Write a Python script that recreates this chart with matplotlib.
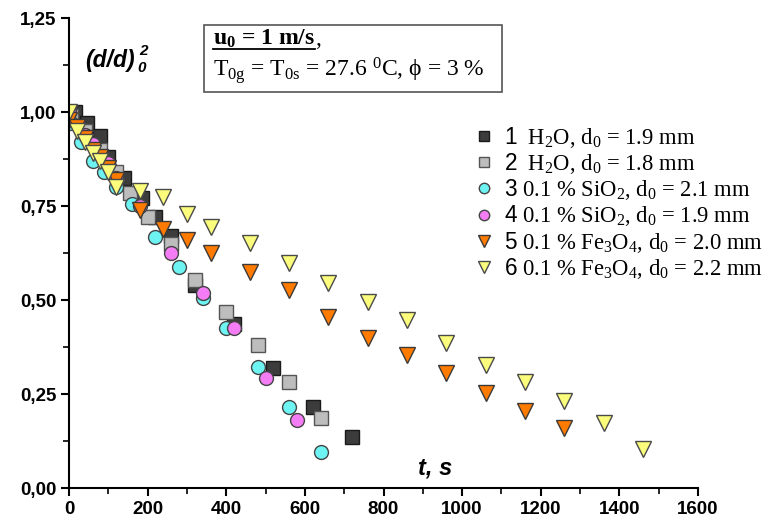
import matplotlib
matplotlib.use("Agg")
import matplotlib.pyplot as plt
from matplotlib.lines import Line2D
from matplotlib.patches import Rectangle
from matplotlib.ticker import MultipleLocator, FuncFormatter

plt.rcParams['mathtext.fontset'] = 'custom'
plt.rcParams['mathtext.rm'] = 'Liberation Serif'
plt.rcParams['mathtext.it'] = 'Liberation Serif:italic'
plt.rcParams['mathtext.bf'] = 'Liberation Serif:bold'
plt.rcParams['mathtext.sf'] = 'Liberation Sans'

# series data: time (s) and (d/d0)^2
t1 = [15, 45, 80, 100, 140, 185, 220, 260, 320, 420, 520, 620, 720]
y1 = [1.0, 0.97, 0.935, 0.88, 0.825, 0.77, 0.72, 0.67, 0.54, 0.435, 0.32, 0.215, 0.135]

t2 = [5, 40, 80, 120, 155, 200, 260, 320, 400, 480, 560, 640]
y2 = [0.99, 0.95, 0.90, 0.84, 0.785, 0.72, 0.65, 0.553, 0.468, 0.38, 0.283, 0.186]

t3 = [5, 30, 60, 90, 120, 160, 220, 280, 340, 400, 480, 560, 640]
y3 = [0.97, 0.92, 0.87, 0.84, 0.80, 0.755, 0.668, 0.588, 0.505, 0.425, 0.322, 0.216, 0.096]

t4 = [0, 40, 60, 100, 120, 180, 260, 340, 420, 500, 580]
y4 = [1.0, 0.94, 0.915, 0.865, 0.825, 0.75, 0.625, 0.518, 0.425, 0.292, 0.181]

t5 = [0, 20, 40, 60, 80, 100, 120, 180, 240, 300, 360, 460, 560, 660, 760, 860, 960, 1060, 1160, 1260]
y5 = [0.98, 0.96, 0.93, 0.90, 0.88, 0.85, 0.82, 0.74, 0.69, 0.66, 0.625, 0.575, 0.527, 0.455, 0.40,
      0.354, 0.306, 0.253, 0.205, 0.16]

t6 = [0, 20, 40, 60, 80, 100, 120, 180, 240, 300, 360, 460, 560, 660, 760, 860, 960, 1060, 1160,
      1260, 1360, 1460]
y6 = [1.0, 0.95, 0.92, 0.89, 0.87, 0.84, 0.80, 0.79, 0.774, 0.73, 0.694, 0.652, 0.598, 0.545, 0.495,
      0.447, 0.386, 0.327, 0.282, 0.231, 0.173, 0.104]

labels = [
    r'$\mathsf{1}$  H$_2$O, d$_0$ = 1.9 mm',
    r'$\mathsf{2}$  H$_2$O, d$_0$ = 1.8 mm',
    r'$\mathsf{3}$ 0.1 % SiO$_2$, d$_0$ = 2.1 mm',
    r'$\mathsf{4}$ 0.1 % SiO$_2$, d$_0$ = 1.9 mm',
    r'$\mathsf{5}$ 0.1 % Fe$_3$O$_4$, d$_0$ = 2.0 mm',
    r'$\mathsf{6}$ 0.1 % Fe$_3$O$_4$, d$_0$ = 2.2 mm',
]

series = [
    (t1, y1, 's', 10, '#3c3c3c', '#1a1a1a'),
    (t2, y2, 's', 10, '#bdbdbd', '#555555'),
    (t3, y3, 'o', 10, '#6ef3f3', '#444444'),
    (t4, y4, 'o', 10, '#f47cf4', '#444444'),
    (t5, y5, 'v', 11.5, '#ff7b00', '#3a3a3a'),
    (t6, y6, 'v', 11.5, '#fcfc7c', '#4a4a4a'),
]

fig = plt.figure(figsize=(7.68, 5.22), dpi=100)
ax = fig.add_axes([69 / 768, 34 / 522, 629 / 768, 470 / 522])

handles = []
for (t, y, m, ms, fc, ec), lab in zip(series, labels):
    h, = ax.plot(t, y, ls='none', marker=m, ms=ms, mfc=fc, mec=ec, mew=1.0, label=lab)
    handles.append(h)

ax.set_xlim(0, 1600)
ax.set_ylim(0, 1.25)
ax.xaxis.set_major_locator(MultipleLocator(200))
ax.xaxis.set_minor_locator(MultipleLocator(100))
ax.yaxis.set_major_locator(MultipleLocator(0.25))
ax.yaxis.set_minor_locator(MultipleLocator(0.125))
ax.yaxis.set_major_formatter(FuncFormatter(lambda v, p: f'{v:.2f}'.replace('.', ',')))

for s in ['top', 'right']:
    ax.spines[s].set_visible(False)
for s in ['left', 'bottom']:
    ax.spines[s].set_linewidth(1.5)

ax.tick_params(which='major', direction='out', length=6, width=1.5, pad=3)
ax.tick_params(which='minor', direction='out', length=4, width=1.2)
for lb in ax.get_xticklabels() + ax.get_yticklabels():
    lb.set_fontfamily('Liberation Sans')
    lb.set_fontweight('bold')
    lb.set_fontsize(13.5)

leg = ax.legend(handles=handles, loc='upper left', bbox_to_anchor=(466 / 768, 1 - 116 / 522),
                bbox_transform=fig.transFigure, frameon=False, markerscale=0.75,
                handlelength=0.8, handletextpad=0.5, labelspacing=0.05, borderaxespad=0,
                prop={'family': 'Liberation Serif', 'size': 16.3})

# axis labels placed as free text like the original
fig.text(85 / 768, 1 - 67 / 522, '(d/d)', fontfamily='Liberation Sans', fontweight='bold',
         fontstyle='italic', fontsize=16.5, ha='left', va='baseline')
fig.text(139 / 768, 1 - 55 / 522, '2', fontfamily='Liberation Sans', fontweight='bold',
         fontstyle='italic', fontsize=11, ha='left', va='baseline')
fig.text(137 / 768, 1 - 72 / 522, '0', fontfamily='Liberation Sans', fontweight='bold',
         fontstyle='italic', fontsize=11, ha='left', va='baseline')
fig.text(418 / 768, 1 - 475 / 522, 't, s', fontfamily='Liberation Sans', fontweight='bold',
         fontstyle='italic', fontsize=17, ha='left', va='baseline')

# conditions box
fig.add_artist(Rectangle((204 / 768, 1 - 92 / 522), 298 / 768, 67 / 522, transform=fig.transFigure,
                         fill=False, edgecolor='#555555', linewidth=1.2))
t_u = fig.text(213 / 768, 1 - 45 / 522, r'u$_\mathbf{0}$ = 1 m/s', fontfamily='Liberation Serif',
               fontweight='bold', fontsize=17, ha='left', va='baseline')
fig.text(213 / 768, 1 - 76 / 522, r'T$_\mathrm{0g}$ = T$_\mathrm{0s}$ = 27.6 $^\mathrm{0}$C, ϕ = 3 %',
         fontfamily=['Liberation Serif', 'DejaVu Serif'], fontsize=17, ha='left', va='baseline')

fig.canvas.draw()
bb = t_u.get_window_extent().transformed(fig.transFigure.inverted())
fig.add_artist(Line2D([bb.x0, bb.x1], [bb.y0 + 0.002, bb.y0 + 0.002], transform=fig.transFigure,
                      color='black', linewidth=1.3))
fig.text(bb.x1, 1 - 45 / 522, ',', fontfamily='Liberation Serif', fontsize=17,
         ha='left', va='baseline')

fig.savefig('out.png', dpi=100)
